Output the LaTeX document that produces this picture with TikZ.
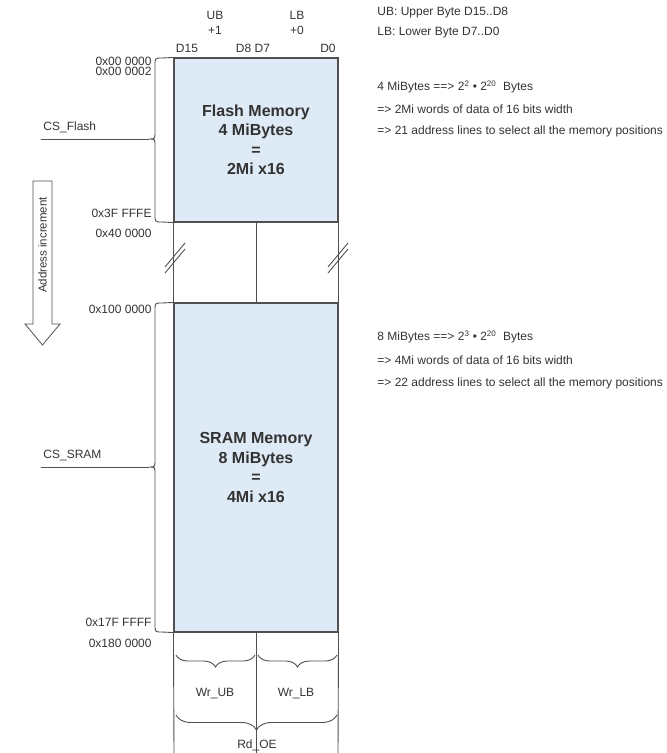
\documentclass[tikz,border=0pt]{standalone}
\usepackage{fontspec}
\setmainfont{Liberation Sans}
\usetikzlibrary{decorations.pathreplacing}
\definecolor{memfill}{HTML}{DEEAF6}
\definecolor{linegray}{HTML}{505050}
\definecolor{txtgray}{HTML}{333333}
\begin{document}
\begin{tikzpicture}[x=1pt,y=-1pt,line width=.9pt,color=linegray,
  lbl/.style={inner sep=0pt,text=txtgray,font=\fontsize{12}{14}\selectfont},
  note/.style={lbl,anchor=west},
  addr/.style={lbl,anchor=east},
  memblock/.style={draw=linegray,fill=memfill,line width=1.1pt,inner sep=0pt,
    minimum width=164pt,align=center,text=txtgray,
    font=\fontsize{16}{19.5}\selectfont\bfseries},
  bytebrace/.style={decorate,decoration={brace,amplitude=#1}}]
  \useasboundingbox (0,0) rectangle (667,753);
  % memory blocks
  \node[memblock,minimum height=164pt] (flash) at (256,140) {Flash Memory\\4 MiBytes\\=\\2Mi x16};
  \node[memblock,minimum height=329pt] (sram) at (256,467.5) {SRAM Memory\\8 MiBytes\\=\\4Mi x16};
  \draw (flash.south west) -- (sram.north west);
  \draw (flash.south east) -- (sram.north east);
  \draw (flash.south) -- (sram.north);
  \coordinate (bl) at (174,753);
  \coordinate (bc) at (256,753);
  \coordinate (br) at (338,753);
  \draw (sram.south west) -- (bl);
  \draw (sram.south) -- (bc);
  \draw (sram.south east) -- (br);
  % breaks
  \draw (165,267) -- (185,243);
  \draw (165,273) -- (185,249);
  \draw (328,267) -- (348,243);
  \draw (328,273) -- (348,249);
  % data bits
  \node[lbl] (ub) at (215,15) {UB};
  \node[lbl] (ubofs) at (215,30) {+1};
  \node[lbl] (lb) at (297,15) {LB};
  \node[lbl] (lbofs) at (297,30) {+0};
  \node[lbl] (d15) at (187,48) {D15};
  \node[lbl] (d8d7) at (253,48) {D8 D7};
  \node[lbl] (d0) at (328,48) {D0};
  % addresses
  \node[addr] (a0) at (152,61) {0x00 0000};
  \node[addr] (a2) at (152,71.5) {0x00 0002};
  \node[addr] (a3f) at (152,213) {0x3F FFFE};
  \node[addr] (a40) at (152,233) {0x40 0000};
  \node[addr] (a100) at (152,309) {0x100 0000};
  \node[addr] (a17f) at (152,622) {0x17F FFFF};
  \node[addr] (a180) at (152,643) {0x180 0000};
  % chip selects
  \draw (flash.north west) -- (162,58) .. controls (155,58) .. (155,65) -- (155,132)
    .. controls (155,139) .. (149,139) .. controls (155,139) .. (155,146) -- (155,215)
    .. controls (155,222) .. (162,222) -- (flash.south west);
  \draw (sram.north west) -- (162,303) .. controls (155,303) .. (155,310) -- (155,460)
    .. controls (155,467) .. (149,467) .. controls (155,467) .. (155,474) -- (155,625)
    .. controls (155,632) .. (162,632) -- (sram.south west);
  \coordinate (flashtip) at (149,139);
  \coordinate (flashend) at (41,139);
  \coordinate (sramtip) at (149,467);
  \coordinate (sramend) at (41,467);
  \draw (flashend) -- (flashtip);
  \draw (sramend) -- (sramtip);
  \node[lbl,anchor=base west] (csflash) at (43,130) {CS\_Flash};
  \node[lbl,anchor=base west] (cssram) at (43,458) {CS\_SRAM};
  % address increment
  \draw[line width=.8pt] (33,181) -- (52,181) -- (52,324) -- (60,324) -- (42.5,345)
    -- (25,324) -- (33,324) -- cycle;
  \node[lbl,rotate=90,font=\fontsize{11.5}{13}\selectfont] (incr) at (42.5,245) {Address increment};
  % byte strobes
  \draw[bytebrace=12] (255,655) -- (176,655);
  \draw[bytebrace=12] (337,655) -- (258,655);
  \draw[bytebrace=15] (337,715) -- (176,715);
  \node[lbl] (wrub) at (215,694) {Wr\_UB};
  \node[lbl] (wrlb) at (296,694) {Wr\_LB};
  \node[lbl] (rdoe) at (257,745) {Rd\_OE};
  % notes
  \node[note] (nub) at (377,13) {UB: Upper Byte D15..D8};
  \node[note] (nlb) at (377,33) {LB: Lower Byte D7..D0};
  \node[note] (nf1) at (377,87) {4 MiBytes ==> 2\textsuperscript{2} \textbullet{} 2\textsuperscript{20}\ \ Bytes};
  \node[note] (nf2) at (377,109) {=> 2Mi words of data of 16 bits width};
  \node[note] (nf3) at (377,131) {=> 21 address lines to select all the memory positions};
  \node[note] (ns1) at (377,337) {8 MiBytes ==> 2\textsuperscript{3} \textbullet{} 2\textsuperscript{20}\ \ Bytes};
  \node[note] (ns2) at (377,360) {=> 4Mi words of data of 16 bits width};
  \node[note] (ns3) at (377,383) {=> 22 address lines to select all the memory positions};
\end{tikzpicture}
\end{document}
